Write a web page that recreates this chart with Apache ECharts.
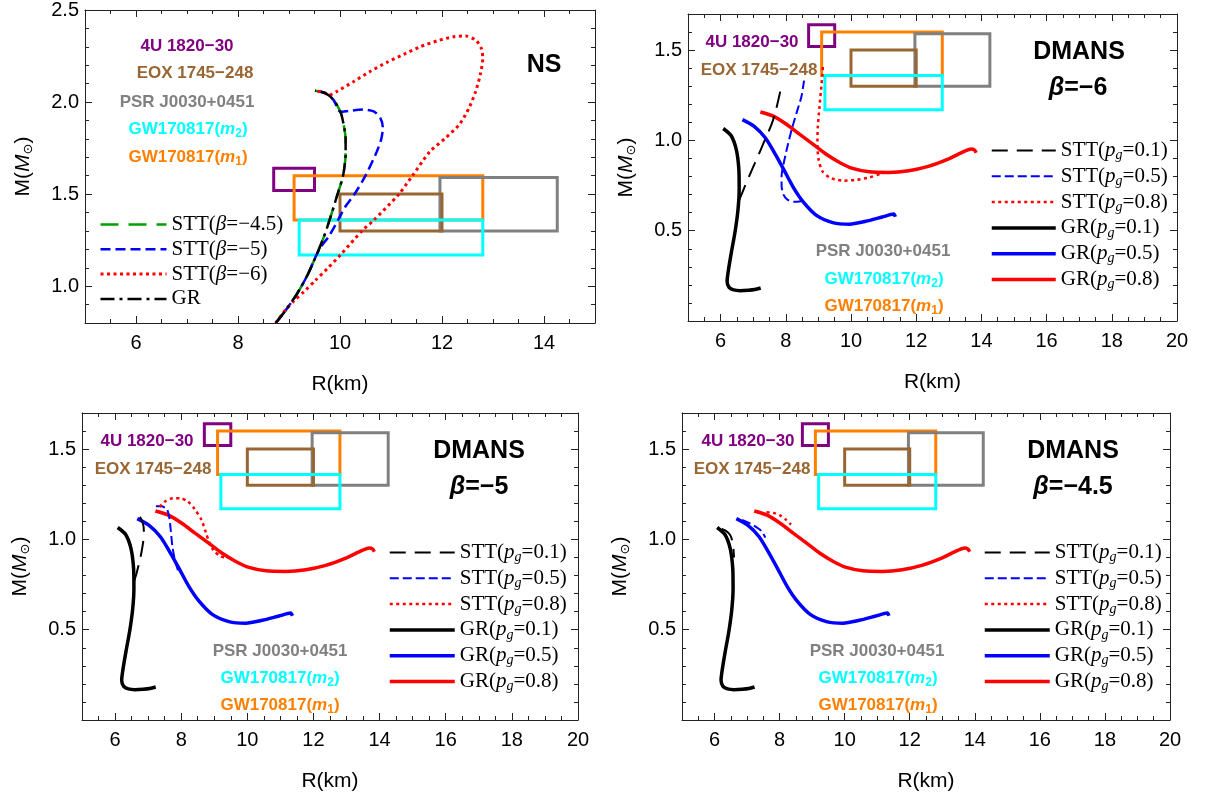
<!DOCTYPE html>
<html>
<head>
<meta charset="utf-8">
<title>M-R curves: NS and DMANS</title>
<script src="https://cdn.jsdelivr.net/npm/echarts@6/dist/echarts.min.js"></script>
<style>
  html, body { margin: 0; padding: 0; background: #ffffff; }
  #chart { width: 1210px; height: 799px; }
</style>
</head>
<body>
<div id="chart"></div>
<script>
// observational constraints: [Rmin, Rmax, Mmin, Mmax]
const box4U1820 = [8.7, 9.5, 1.52, 1.64];
const boxEOX1745 = [10.0, 12.0, 1.30, 1.50];
const boxPSRJ0030 = [11.96, 14.26, 1.30, 1.59];
const boxGWm2 = [9.2, 12.8, 1.17, 1.36];
const boxGWm1 = [9.1, 12.8, 1.36, 1.60];

// panel 1: pure NS  [R(km), M(Msun)]
const nsGR = [[8.74,0.80],[8.94,0.871],[9.16,0.96],[9.36,1.059],[9.54,1.17],[9.68,1.265],[9.81,1.372],[9.94,1.489],[10.06,1.60],[10.11,1.72],[10.11,1.80],[10.07,1.88],[10.01,1.946],[9.87,2.013],[9.71,2.049],[9.51,2.062]];
const nsSTT45 = [[8.74,0.80],[8.94,0.871],[9.16,0.96],[9.36,1.059],[9.54,1.17],[9.68,1.265],[9.81,1.372],[9.94,1.489],[10.06,1.60],[10.11,1.72],[10.11,1.80],[10.07,1.88],[10.01,1.946],[9.87,2.013],[9.71,2.049],[9.51,2.062]];
const nsSTT5 = [[8.74,0.80],[8.94,0.871],[9.16,0.96],[9.36,1.059],[9.54,1.17],[9.63,1.215],[9.78,1.27],[9.96,1.358],[10.10,1.43],[10.28,1.498],[10.50,1.60],[10.72,1.73],[10.81,1.80],[10.84,1.86],[10.79,1.914],[10.66,1.95],[10.46,1.959],[10.20,1.953],[10.01,1.946],[9.87,2.013],[9.71,2.049],[9.51,2.062]];
const nsSTT6 = [[8.74,0.80],[8.94,0.874],[9.10,0.921],[9.29,0.969],[9.52,1.032],[9.75,1.095],[10.01,1.17],[10.43,1.30],[10.66,1.358],[11.15,1.498],[11.42,1.60],[11.76,1.73],[12.05,1.80],[12.34,1.878],[12.53,1.968],[12.66,2.058],[12.75,2.148],[12.80,2.238],[12.77,2.292],[12.66,2.337],[12.46,2.359],[12.23,2.355],[11.90,2.332],[11.58,2.301],[11.25,2.259],[10.92,2.216],[10.59,2.166],[10.27,2.112],[9.94,2.058],[9.77,2.036],[9.71,2.049],[9.51,2.062]];

// DMANS, GR curves (same in the three DMANS panels)
const grP01 = [[6.08,1.066],[6.32,1.027],[6.48,0.95],[6.56,0.84],[6.57,0.73],[6.53,0.61],[6.44,0.49],[6.33,0.38],[6.23,0.27],[6.20,0.22],[6.26,0.186],[6.40,0.172],[6.60,0.168],[6.85,0.170],[7.05,0.174],[7.23,0.183]];
const grP05 = [[6.67,1.115],[7.02,1.079],[7.37,1.015],[7.68,0.923],[7.93,0.841],[8.23,0.74],[8.54,0.658],[8.94,0.585],[9.44,0.545],[9.95,0.536],[10.45,0.552],[10.96,0.576],[11.31,0.592],[11.36,0.577]];
const grP08 = [[7.22,1.157],[7.63,1.133],[8.03,1.088],[8.43,1.033],[8.84,0.978],[9.24,0.923],[9.65,0.878],[10.05,0.845],[10.56,0.826],[11.16,0.823],[11.77,0.832],[12.37,0.856],[12.98,0.896],[13.39,0.932],[13.69,0.952],[13.79,0.946],[13.84,0.932]];

// DMANS, STT beta = -6
const stt6P01 = [[6.57,0.67],[6.65,0.704],[6.80,0.77],[6.97,0.841],[7.14,0.91],[7.30,0.978],[7.45,1.04],[7.58,1.097],[7.70,1.17],[7.83,1.271]];
const stt6P05 = [[8.50,0.665],[8.25,0.66],[8.05,0.672],[7.93,0.70],[7.87,0.75],[7.87,0.80],[7.92,0.86],[8.03,0.951],[8.18,1.06],[8.33,1.152],[8.48,1.243],[8.56,1.331]];
const stt6P08 = [[11.06,0.823],[10.91,0.815],[10.56,0.795],[10.15,0.781],[9.75,0.777],[9.34,0.795],[9.12,0.83],[9.01,0.89],[8.97,0.97],[8.98,1.07],[9.03,1.18],[9.08,1.28],[9.12,1.36],[9.14,1.42]];
// DMANS, STT beta = -5
const stt5P01 = [[6.58,0.77],[6.66,0.82],[6.73,0.87],[6.80,0.93],[6.86,1.00],[6.87,1.05],[6.84,1.09],[6.75,1.125],[6.61,1.14]];
const stt5P05 = [[7.90,0.829],[7.80,0.894],[7.73,0.967],[7.68,1.059],[7.63,1.132],[7.56,1.169],[7.39,1.183],[7.17,1.183]];
const stt5P08 = [[7.35,1.18],[7.51,1.21],[7.75,1.228],[7.97,1.228],[8.20,1.21],[8.40,1.17],[8.61,1.109],[8.76,1.03],[8.84,0.989],[8.98,0.939],[9.19,0.906],[9.38,0.90],[9.59,0.894]];
// DMANS, STT beta = -4.5
const stt45P01 = [[6.22,1.058],[6.36,1.046],[6.48,1.025],[6.55,0.99],[6.58,0.95],[6.60,0.90]];
const stt45P05 = [[6.85,1.108],[7.10,1.088],[7.30,1.066],[7.45,1.045],[7.56,1.01]];
const stt45P08 = [[7.60,1.15],[7.80,1.147],[8.00,1.134],[8.20,1.108],[8.35,1.082]];

// tick labels
const xTicksNS = [6, 8, 10, 12, 14];
const yTicksNS = [1.0, 1.5, 2.0, 2.5];
const xTicksDM = [6, 8, 10, 12, 14, 16, 18, 20];
const yTicksDM = [0.5, 1.0, 1.5];

const FRAME = '#222';
const SANS = 'Liberation Sans, Arial, sans-serif';
const SERIF = 'Liberation Serif, Times New Roman, serif';

function steps(a, b, s) {
  const out = [];
  for (let v = a; v <= b + 1e-9; v += s) out.push(Math.round(v * 100) / 100);
  return out;
}

const grids = [
  { left: 85, top: 8, width: 510, height: 315 },
  { left: 688, top: 14, width: 489, height: 307 },
  { left: 82, top: 413, width: 496, height: 307 },
  { left: 682, top: 413, width: 488, height: 307 },
];

const xAxes = [];
const yAxes = [];

function addAxes(gi, xr, yr, xMaj, yMaj, xMin, yMin) {
  const xi = xAxes.length;
  const yi = yAxes.length;
  const line = { show: true, onZero: false, lineStyle: { color: FRAME, width: 1 } };
  const noLine = { show: false, onZero: false };
  const tick = (vals, len) => ({ show: true, inside: true, length: len, customValues: vals, lineStyle: { color: FRAME, width: 1 } });
  const base = (pos, r) => ({ gridIndex: gi, type: 'value', min: r[0], max: r[1], position: pos, splitLine: { show: false } });

  xAxes.push(Object.assign(base('bottom', xr), {
    axisLine: line, axisTick: tick(xMaj, 7),
    axisLabel: { customValues: xMaj, margin: 10, fontFamily: SANS, fontSize: 20, color: '#000' },
    name: 'R(km)', nameLocation: 'middle', nameGap: 51,
    nameTextStyle: { fontFamily: SANS, fontSize: 21, color: '#000' },
  }));
  xAxes.push(Object.assign(base('bottom', xr), { axisLine: noLine, axisTick: tick(xMin, 4), axisLabel: { show: false } }));
  xAxes.push(Object.assign(base('top', xr), { axisLine: line, axisTick: tick(xMaj, 7), axisLabel: { show: false } }));
  xAxes.push(Object.assign(base('top', xr), { axisLine: noLine, axisTick: tick(xMin, 4), axisLabel: { show: false } }));

  yAxes.push(Object.assign(base('left', yr), {
    axisLine: line, axisTick: tick(yMaj, 7),
    axisLabel: { customValues: yMaj, margin: 6, fontFamily: SANS, fontSize: 20, color: '#000', formatter: v => v.toFixed(1) },
    name: '{n|M(}{i|M}{s|⊙}{n|)}', nameLocation: 'middle', nameGap: 50,
    nameTextStyle: {
      fontFamily: SANS, fontSize: 21, color: '#000',
      rich: {
        n: { fontFamily: SANS, fontSize: 21, lineHeight: 24, color: '#000' },
        i: { fontFamily: SANS, fontSize: 21, fontStyle: 'italic', lineHeight: 24, color: '#000' },
        s: { fontFamily: 'DejaVu Sans', fontSize: 13, lineHeight: 12, verticalAlign: 'bottom', color: '#000' },
      },
    },
  }));
  yAxes.push(Object.assign(base('left', yr), { axisLine: noLine, axisTick: tick(yMin, 4), axisLabel: { show: false } }));
  yAxes.push(Object.assign(base('right', yr), { axisLine: line, axisTick: tick(yMaj, 7), axisLabel: { show: false } }));
  yAxes.push(Object.assign(base('right', yr), { axisLine: noLine, axisTick: tick(yMin, 4), axisLabel: { show: false } }));
  return [xi, yi];
}

const series = [];

function boxes(xi, yi) {
  const list = [
    [box4U1820, '#800080'],
    [boxGWm1, '#ff8000'],
    [boxPSRJ0030, '#808080'],
    [boxEOX1745, '#996633'],
    [boxGWm2, '#00ffff'],
  ];
  list.forEach(([b, c]) => {
    series.push({
      type: 'line', xAxisIndex: xi, yAxisIndex: yi, symbol: 'none', silent: true, z: 1,
      data: [[b[0], b[2]], [b[1], b[2]], [b[1], b[3]], [b[0], b[3]], [b[0], b[2]], [b[1], b[2]]],
      lineStyle: { color: c, width: 3, join: 'miter' },
    });
  });
}

function curve(name, data, xi, yi, color, width, type, z) {
  series.push({
    name, type: 'line', xAxisIndex: xi, yAxisIndex: yi, data,
    symbol: 'none', smooth: 0.25, silent: true, z: z || 3,
    lineStyle: { color, width, type, cap: 'butt' },
    itemStyle: { color },
  });
}

const DASH_LONG = [16, 9];
const DASH_MID = [9, 4];
const DOTS = [3, 3.5];

// panel 1
const [x0, y0] = addAxes(0, [5, 15], [0.8, 2.5], xTicksNS, yTicksNS, steps(5, 15, 0.5), steps(0.8, 2.5, 0.1));
boxes(x0, y0);
curve('STT(β=−4.5)', nsSTT45, x0, y0, '#00a000', 2.5, [18, 10], 3);
curve('STT(β=−5)', nsSTT5, x0, y0, '#0000ff', 2.5, [10, 5], 3);
curve('STT(β=−6)', nsSTT6, x0, y0, '#ff0000', 3, DOTS, 3);
curve('GR', nsGR, x0, y0, '#000000', 2.5, [14, 5, 3, 5], 4);

// DMANS panels
const dmSets = [
  [1, stt6P01, stt6P05, stt6P08],
  [2, stt5P01, stt5P05, stt5P08],
  [3, stt45P01, stt45P05, stt45P08],
];
dmSets.forEach(([gi, s1, s5, s8]) => {
  const [xi, yi] = addAxes(gi, [5, 20], [0, 1.7], xTicksDM, yTicksDM, steps(5, 20, 0.5), steps(0, 1.7, 0.1));
  boxes(xi, yi);
  curve('GR(pg=0.1)', grP01, xi, yi, '#000000', 3.5, 'solid', 3);
  curve('GR(pg=0.5)', grP05, xi, yi, '#0000ff', 3.5, 'solid', 3);
  curve('GR(pg=0.8)', grP08, xi, yi, '#ff0000', 3.5, 'solid', 3);
  curve('STT(pg=0.1)', s1, xi, yi, '#000000', 2, DASH_LONG, 4);
  curve('STT(pg=0.5)', s5, xi, yi, '#0000ff', 2, DASH_MID, 4);
  curve('STT(pg=0.8)', s8, xi, yi, '#ff0000', 2.5, DOTS, 4);
});

// legends
const legendRich = {
  n: { fontFamily: SERIF, fontSize: 21, lineHeight: 24, color: '#000' },
  i: { fontFamily: SERIF, fontSize: 21, fontStyle: 'italic', lineHeight: 24, color: '#000' },
  s: { fontFamily: SERIF, fontSize: 14, fontStyle: 'italic', lineHeight: 12, verticalAlign: 'bottom', color: '#000' },
};
function legendText(name) {
  if (name.indexOf('β') >= 0) {
    const parts = name.split('β');
    return '{n|' + parts[0] + '}{i|β}{n|' + parts[1] + '}';
  }
  if (name.indexOf('pg') >= 0) {
    const parts = name.split('pg');
    return '{n|' + parts[0] + '}{i|p}{s|g}{n|' + parts[1] + '}';
  }
  return '{n|' + name + '}';
}
function item(name, width) {
  return { name, lineStyle: { width }, itemStyle: { opacity: 0 } };
}
function legend(left, top, w, gap, items) {
  return {
    orient: 'vertical', left, top, padding: 0, itemGap: gap, itemWidth: w, itemHeight: 14,
    selectedMode: false, data: items, formatter: legendText,
    textStyle: { fontFamily: SERIF, fontSize: 21, color: '#000', rich: legendRich },
  };
}
const dmItems = [
  item('STT(pg=0.1)', 2), item('STT(pg=0.5)', 2), item('STT(pg=0.8)', 2.5),
  item('GR(pg=0.1)', 3.5), item('GR(pg=0.5)', 3.5), item('GR(pg=0.8)', 3.5),
];
const legends = [
  legend(99, 214, 66, 3.8, [item('STT(β=−4.5)', 2.5), item('STT(β=−5)', 2.5), item('STT(β=−6)', 3), item('GR', 2.5)]),
  legend(990, 140, 64, 3.3, dmItems),
  legend(388, 542, 65, 3.3, dmItems),
  legend(983, 542, 65, 3.3, dmItems),
];

// text annotations
function label(x, y, text, color, size, rich) {
  return {
    type: 'text', x, y, silent: true,
    style: { text, fill: color, font: 'bold ' + size + 'px ' + SANS, align: 'center', verticalAlign: 'middle', rich },
  };
}
function gwRich(color) {
  return {
    b: { fontFamily: SANS, fontWeight: 'bold', fontSize: 17, fill: color, lineHeight: 22 },
    i: { fontFamily: SANS, fontWeight: 'bold', fontStyle: 'italic', fontSize: 17, fill: color, lineHeight: 22 },
    s: { fontFamily: SANS, fontWeight: 'bold', fontSize: 12, fill: color, lineHeight: 12, verticalAlign: 'bottom' },
  };
}
function sources(p4u, peox, ppsr, pm2, pm1) {
  return [
    label(p4u[0], p4u[1], '4U 1820−30', '#800080', 17),
    label(peox[0], peox[1], 'EOX 1745−248', '#996633', 17),
    label(ppsr[0], ppsr[1], 'PSR J0030+0451', '#808080', 17),
    label(pm2[0], pm2[1], '{b|GW170817(}{i|m}{s|2}{b|)}', '#00ffff', 17, gwRich('#00ffff')),
    label(pm1[0], pm1[1], '{b|GW170817(}{i|m}{s|1}{b|)}', '#ff8000', 17, gwRich('#ff8000')),
  ];
}
const betaRich = {
  i: { fontFamily: SANS, fontWeight: 'bold', fontStyle: 'italic', fontSize: 25, fill: '#000' },
  b: { fontFamily: SANS, fontWeight: 'bold', fontSize: 25, fill: '#000' },
};
const graphics = [].concat(
  sources([187, 46], [195, 73], [187, 102], [188, 129], [188, 157]),
  [label(544, 65, 'NS', '#000', 25)],
  sources([752, 42], [759, 70], [883, 251], [884, 279], [884, 306]),
  [label(1079, 52, 'DMANS', '#000', 25), label(1078, 88, '{i|β}{b|=−6}', '#000', 25, betaRich)],
  sources([147, 441], [153, 469], [280, 651], [280, 678], [280, 705]),
  [label(479, 451, 'DMANS', '#000', 25), label(479, 487, '{i|β}{b|=−5}', '#000', 25, betaRich)],
  sources([748, 441], [752, 469], [877, 651], [878, 678], [878, 705]),
  [label(1073, 451, 'DMANS', '#000', 25), label(1073, 487, '{i|β}{b|=−4.5}', '#000', 25, betaRich)]
);

const chart = echarts.init(document.getElementById('chart'), null, { renderer: 'canvas' });
chart.setOption({
  animation: false,
  backgroundColor: '#ffffff',
  grid: grids,
  xAxis: xAxes,
  yAxis: yAxes,
  legend: legends,
  series,
  graphic: graphics,
});
</script>
</body>
</html>
